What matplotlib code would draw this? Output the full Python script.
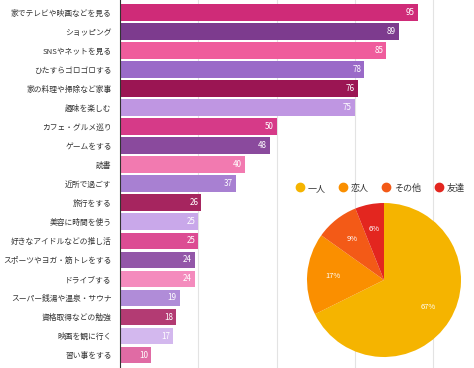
import matplotlib
matplotlib.use("Agg")
import matplotlib.pyplot as plt
from matplotlib.lines import Line2D

plt.rcParams['font.family'] = ['Noto Sans CJK JP', 'DejaVu Sans']

# bar chart data (top to bottom)
activities = [
    "家でテレビや映画などを見る", "ショッピング", "SNSやネットを見る", "ひたすらゴロゴロする",
    "家の料理や掃除など家事", "趣味を楽しむ", "カフェ・グルメ巡り", "ゲームをする", "読書",
    "近所で過ごす", "旅行をする", "美容に時間を使う", "好きなアイドルなどの推し活",
    "スポーツやヨガ・筋トレをする", "ドライブする", "スーパー銭湯や温泉・サウナ",
    "資格取得などの勉強", "映画を観に行く", "習い事をする",
]
counts = [95, 89, 85, 78, 76, 75, 50, 48, 40, 37, 26, 25, 25, 24, 24, 19, 18, 17, 10]
bar_colors = [
    "#cf2b78", "#7d3b8e", "#ef5c9c", "#9a6ac8", "#9b1553", "#bf96e2", "#d63a88",
    "#8a4a9d", "#f27ab0", "#a880d2", "#a6255f", "#c9a8ea", "#dc4c93", "#9357a8",
    "#f48bbd", "#b08cd8", "#b33b73", "#d3b8ee", "#e06ba4",
]

# pie data (who they spend it with)
who = ["一人", "恋人", "その他", "友達"]
share = [67, 17, 9, 6]
pie_colors = ["#f5b400", "#fa8f00", "#f35a17", "#e3261f"]

fig = plt.figure(figsize=(4.74, 3.68), dpi=100)

# horizontal bars
ax = fig.add_axes([120 / 474, 0, 354 / 474, 1])
ypos = list(range(len(activities)))
ax.barh(ypos, counts, height=0.88, color=bar_colors, zorder=2)
ax.set_xlim(0, 113)
ax.set_ylim(18.68, -0.66)
ax.set_xticks([25, 50, 75, 100])
ax.grid(axis="x", color="#e3e3e3", linewidth=0.8, zorder=0)
ax.tick_params(axis="x", length=0, labelbottom=False)
ax.tick_params(axis="y", length=0, pad=6)
ax.set_yticks(ypos)
ax.set_yticklabels(activities, fontsize=5.6, color="#333333")
for side in ["top", "right", "bottom"]:
    ax.spines[side].set_visible(False)
ax.spines["left"].set_color("#333333")
ax.spines["left"].set_linewidth(0.8)
for y, v in zip(ypos, counts):
    ax.text(v - 1, y, str(v), ha="right", va="center", fontsize=5.8,
            color="white", zorder=3)

# pie chart on top
pax = fig.add_axes([307 / 474, 11 / 368, 154 / 474, 154 / 368])
pax.set_facecolor("none")
wedges, _, autotexts = pax.pie(
    share, colors=pie_colors, startangle=90, counterclock=False,
    autopct="%d%%", pctdistance=0.67, radius=1,
    textprops={"fontsize": 5.5, "color": "white"},
)
pax.set_aspect("equal")
pax.set_xlim(-1, 1)
pax.set_ylim(-1, 1)

handles = [Line2D([0], [0], marker="o", linestyle="", markersize=6,
                  markerfacecolor=c, markeredgecolor=c) for c in pie_colors]
fig.legend(handles, who, loc="center left", bbox_to_anchor=(288 / 474, 0.489),
           ncol=4, frameon=False, fontsize=6.5, handlelength=0.8,
           handletextpad=0.5, columnspacing=1.5, labelcolor="#333333")

fig.savefig("out.png", dpi=100)
